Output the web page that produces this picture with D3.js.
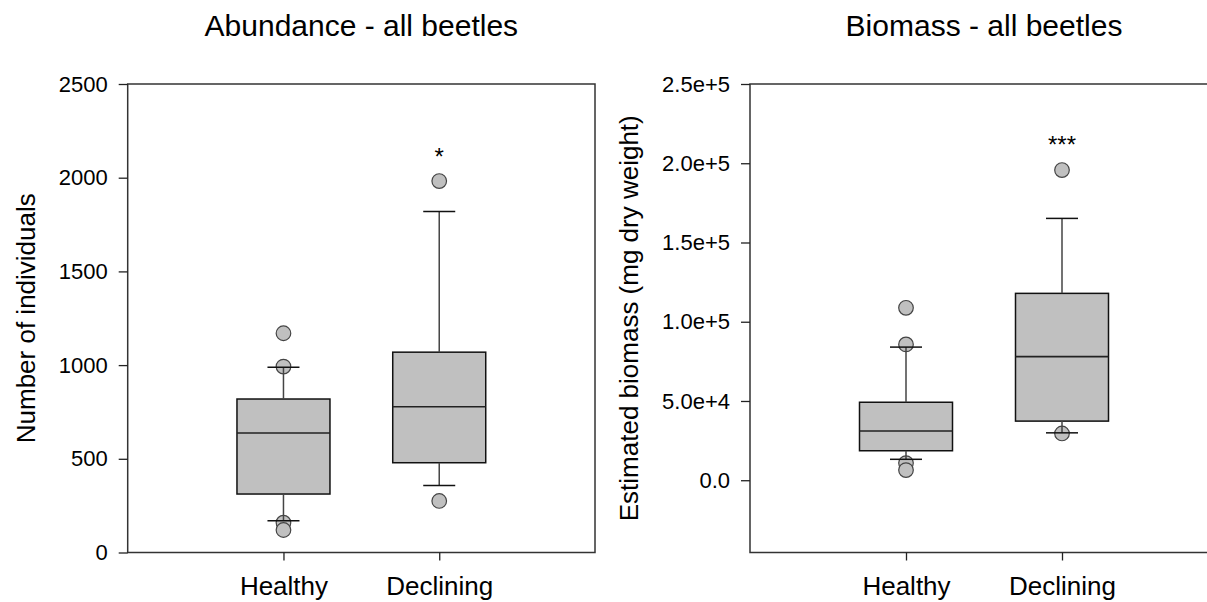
<!DOCTYPE html>
<html>
<head>
<meta charset="utf-8">
<script src="https://cdn.jsdelivr.net/npm/d3@7"></script>
<style>
  html, body { margin: 0; padding: 0; background: #fff; }
  svg { display: block; font-family: "Liberation Sans", Arial, sans-serif; }
</style>
</head>
<body>
<svg id="chart" width="1207" height="602"></svg>
<script>
// ---- Data ----
const categories = ["Healthy", "Declining"];

// Abundance - all beetles
const abundanceTitle = "Abundance - all beetles";
const abundanceYLabel = "Number of individuals";
const abundanceTicks = [0, 500, 1000, 1500, 2000, 2500];
const abundanceDomain = [0, 2500];
const abundanceQ1 = [312, 479];
const abundanceMedian = [638, 778];
const abundanceQ3 = [819, 1069];
const abundanceWhiskerLow = [170, 357];
const abundanceWhiskerHigh = [988, 1820];
const abundanceOutliersHealthy = [1170, 992, 159, 120];
const abundanceOutliersDeclining = [1982, 275];
const abundanceSignif = ["", "*"];
const abundanceSignifValue = [0, 2070];

// Biomass - all beetles
const biomassTitle = "Biomass - all beetles";
const biomassYLabel = "Estimated biomass (mg dry weight)";
const biomassTicks = [0, 50000, 100000, 150000, 200000, 250000];
const biomassDomain = [-45600, 250000];
const biomassQ1 = [18600, 37300];
const biomassMedian = [31100, 78000];
const biomassQ3 = [49200, 117900];
const biomassWhiskerLow = [13200, 29900];
const biomassWhiskerHigh = [84000, 165200];
const biomassOutliersHealthy = [108800, 85700, 10800, 6400];
const biomassOutliersDeclining = [195700, 29500];
const biomassSignif = ["", "***"];
const biomassSignifValue = [0, 206500];

// ---- Drawing ----
const svg = d3.select("#chart");
const plotTop = 84, plotBottom = 552.5;
const boxFill = "#c0c0c0";

function sciFmt(v) {
  return v === 0 ? "0.0" : d3.format(".1e")(v);
}

function panel(opts) {
  const { left, right, title, yLabel, ticks, domain, q1, med, q3, wl, wh, outliers,
          signif, signifValue, fmt, yLabelX } = opts;
  const g = svg.append("g");
  const x = d3.scalePoint().domain(categories).range([left, right]).padding(1);
  const y = d3.scaleLinear().domain(domain).range([plotBottom, plotTop]);

  // title
  g.append("text")
    .attr("x", (left + right) / 2).attr("y", 36)
    .attr("text-anchor", "middle")
    .attr("font-size", 30).attr("fill", "#000")
    .text(title);

  // y axis label
  g.append("text")
    .attr("transform", `translate(${yLabelX},${(plotTop + plotBottom) / 2}) rotate(-90)`)
    .attr("text-anchor", "middle")
    .attr("font-size", 26).attr("fill", "#000")
    .text(yLabel);

  // frame
  g.append("rect")
    .attr("x", left).attr("y", plotTop)
    .attr("width", right - left).attr("height", plotBottom - plotTop)
    .attr("fill", "none").attr("stroke", "#333").attr("stroke-width", 1.5);

  // y axis
  const yAxis = g.append("g")
    .attr("transform", `translate(${left},0)`)
    .call(d3.axisLeft(y).tickValues(ticks).tickFormat(fmt).tickSize(9).tickPadding(11));
  yAxis.select(".domain").remove();
  yAxis.selectAll(".tick line").attr("stroke", "#222").attr("stroke-width", 1.3);
  yAxis.selectAll(".tick text").attr("font-size", 22).attr("fill", "#000")
    .attr("font-family", "'Liberation Sans', Arial, sans-serif");

  // x axis
  const xAxis = g.append("g")
    .attr("transform", `translate(0,${plotBottom})`)
    .call(d3.axisBottom(x).tickSize(8).tickPadding(16));
  xAxis.select(".domain").remove();
  xAxis.selectAll(".tick line").attr("stroke", "#222").attr("stroke-width", 1.3);
  xAxis.selectAll(".tick text").attr("font-size", 26).attr("fill", "#000")
    .attr("dy", "0.71em")
    .attr("font-family", "'Liberation Sans', Arial, sans-serif");

  const boxW = 93, capW = 32, r = 7.3;

  categories.forEach((c, i) => {
    const cx = x(c);
    // box
    g.append("rect")
      .attr("x", cx - boxW / 2).attr("y", y(q3[i]))
      .attr("width", boxW).attr("height", y(q1[i]) - y(q3[i]))
      .attr("fill", boxFill).attr("stroke", "#111").attr("stroke-width", 1.5);
    // median
    g.append("line")
      .attr("x1", cx - boxW / 2).attr("x2", cx + boxW / 2)
      .attr("y1", y(med[i])).attr("y2", y(med[i]))
      .attr("stroke", "#222").attr("stroke-width", 1.6);
    // outliers
    g.selectAll(null).data(outliers[i]).enter().append("circle")
      .attr("cx", cx).attr("cy", d => y(d)).attr("r", r)
      .attr("fill", boxFill).attr("stroke", "#444").attr("stroke-width", 1.2);
    // whiskers
    g.append("line")
      .attr("x1", cx).attr("x2", cx)
      .attr("y1", y(q3[i])).attr("y2", y(wh[i]))
      .attr("stroke", "#444").attr("stroke-width", 1.5);
    g.append("line")
      .attr("x1", cx).attr("x2", cx)
      .attr("y1", y(q1[i])).attr("y2", y(wl[i]))
      .attr("stroke", "#444").attr("stroke-width", 1.5);
    [wh[i], wl[i]].forEach(v => {
      g.append("line")
        .attr("x1", cx - capW / 2).attr("x2", cx + capW / 2)
        .attr("y1", y(v)).attr("y2", y(v))
        .attr("stroke", "#111").attr("stroke-width", 1.5);
    });
    // significance
    if (signif[i]) {
      g.append("text")
        .attr("x", cx).attr("y", y(signifValue[i]))
        .attr("text-anchor", "middle")
        .attr("font-size", 24).attr("fill", "#000")
        .text(signif[i]);
    }
  });
}

panel({
  left: 127.7, right: 595, title: abundanceTitle, yLabel: abundanceYLabel,
  ticks: abundanceTicks, domain: abundanceDomain,
  q1: abundanceQ1, med: abundanceMedian, q3: abundanceQ3,
  wl: abundanceWhiskerLow, wh: abundanceWhiskerHigh,
  outliers: [abundanceOutliersHealthy, abundanceOutliersDeclining],
  signif: abundanceSignif, signifValue: abundanceSignifValue,
  fmt: d3.format("d"), yLabelX: 35
});

panel({
  left: 750, right: 1218, title: biomassTitle, yLabel: biomassYLabel,
  ticks: biomassTicks, domain: biomassDomain,
  q1: biomassQ1, med: biomassMedian, q3: biomassQ3,
  wl: biomassWhiskerLow, wh: biomassWhiskerHigh,
  outliers: [biomassOutliersHealthy, biomassOutliersDeclining],
  signif: biomassSignif, signifValue: biomassSignifValue,
  fmt: sciFmt, yLabelX: 638
});
</script>
</body>
</html>
